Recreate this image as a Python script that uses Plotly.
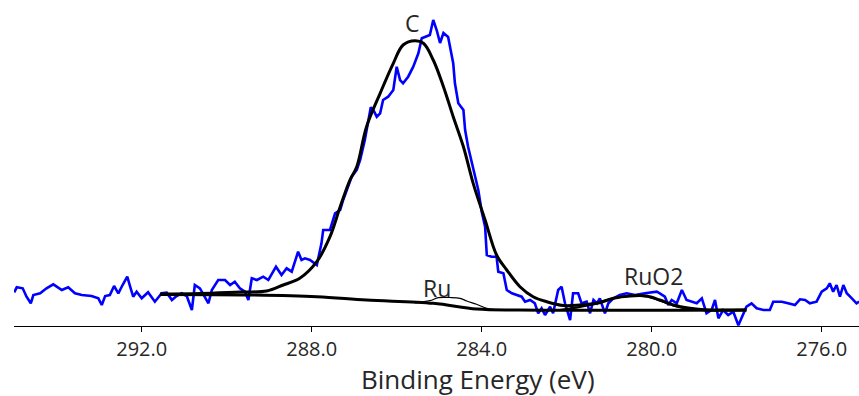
import plotly.graph_objects as go

# Measured spectrum (binding energy in eV, intensity in arbitrary units)
be_data = [295.0, 294.94, 294.80, 294.71, 294.61, 294.55, 294.39, 294.24, 294.08, 293.88,
           293.73, 293.57, 293.41, 293.18, 293.02, 292.94, 292.86, 292.75, 292.65, 292.55,
           292.45, 292.34, 292.26, 292.20, 292.12, 292.00, 291.85, 291.69, 291.53, 291.41,
           291.29, 291.18, 291.06, 290.94, 290.82, 290.75, 290.63, 290.43, 290.35, 290.20,
           290.04, 289.92, 289.81, 289.69, 289.57, 289.49, 289.41, 289.29, 289.14, 289.02,
           288.84, 288.71, 288.59, 288.47, 288.32, 288.24, 288.16, 288.04, 287.88, 287.77,
           287.73, 287.57, 287.45, 287.33, 287.26, 287.18, 287.06, 286.94, 286.86, 286.75,
           286.67, 286.61, 286.55, 286.47, 286.39, 286.32, 286.20, 286.08, 286.00, 285.92,
           285.85, 285.73, 285.61, 285.49, 285.41, 285.29, 285.22, 285.14, 285.06, 284.98,
           284.90, 284.79, 284.75, 284.67, 284.63, 284.55, 284.43, 284.39, 284.32, 284.20,
           284.08, 284.00, 283.92, 283.88, 283.77, 283.65, 283.61, 283.49, 283.41, 283.29,
           283.18, 283.06, 282.98, 282.86, 282.75, 282.67, 282.59, 282.51, 282.39, 282.32,
           282.20, 282.12, 282.04, 281.92, 281.85, 281.73, 281.65, 281.53, 281.45, 281.37,
           281.29, 281.22, 281.10, 281.02, 280.90, 280.75, 280.59, 280.39, 280.16, 280.00,
           279.88, 279.81, 279.69, 279.61, 279.53, 279.41, 279.29, 279.18, 279.02, 278.94,
           278.82, 278.71, 278.59, 278.51, 278.43, 278.32, 278.20, 278.08, 277.96, 277.88,
           277.77, 277.65, 277.53, 277.37, 277.22, 277.14, 276.94, 276.79, 276.63, 276.51,
           276.39, 276.28, 276.12, 276.00, 275.88, 275.81, 275.73, 275.65, 275.57, 275.49,
           275.41, 275.29, 275.18, 275.12]
counts = [33.7, 38.7, 37.7, 29.3, 22.7, 31, 32.7, 37.7, 41.7, 36,
          38.7, 32.7, 31, 30, 27.7, 21, 30, 31, 40, 32.7,
          41, 49.3, 37.7, 29.3, 34.3, 27.7, 33.7, 24.3, 32.7, 33.3,
          26, 30, 32.7, 30, 16, 41, 37.7, 22.7, 36, 46,
          46, 41, 44.3, 37.7, 34.3, 26, 47.7, 46, 49.3, 46,
          59.3, 51, 57.7, 54.3, 74.3, 66, 67.7, 66, 61, 82.7,
          96, 96, 112.7, 116, 126, 136, 149.3, 156, 166, 186,
          206, 218.7, 216, 209.3, 212.7, 226, 229.3, 236, 259.3, 246,
          242.7, 249.3, 259.3, 272.7, 287.7, 289.3, 291, 306, 296, 283,
          293, 289, 279.3, 262.7, 242.7, 222.7, 216, 196, 179.3, 156,
          136, 114.3, 99.3, 71, 69.3, 69.3, 54.3, 52.7, 36, 32.7,
          31, 29.3, 24.3, 26, 22.7, 12.7, 17.7, 11, 19.3, 12.7,
          36, 39.3, 22.7, 6, 32.7, 32.7, 22.7, 24.3, 12.7, 26,
          22.7, 27.7, 12.7, 22.7, 27.7, 31, 32.7, 31, 32.7, 33.3,
          34.3, 32.7, 29.3, 21, 26, 22.7, 36, 26, 24.3, 22.7,
          27.7, 12.7, 16, 26, 7.7, 16, 11, 14.3, 0.8, 9.3,
          19.3, 22.7, 17.7, 16, 16, 24.3, 24.3, 22.7, 21, 26.7,
          26, 22.7, 24.3, 34.3, 37.7, 42.7, 34.3, 41, 29.3, 41,
          32.7, 27.7, 22.7, 24.3]

# Background (Shirley-type)
be_bg = [291.57, 289.45, 287.88, 286.71, 285.14, 284.12, 283.10, 277.77]
bg = [31.5, 31, 29.3, 26, 22.7, 17, 16, 16]

# Total fit envelope
be_env = [291.57, 290.63, 289.69, 289.06, 288.67, 288.28, 287.88, 287.57, 287.33, 287.10,
          286.94, 286.71, 286.39, 286.08, 285.85, 285.57, 285.37, 285.14, 284.90, 284.67,
          284.43, 284.20, 283.92, 283.65, 283.41, 283.10, 282.79, 282.47, 282.08, 281.69,
          281.29, 280.90, 280.51, 280.12, 279.81, 279.49, 279.10, 278.71, 277.77]
env = [32, 32.5, 34, 35, 41, 47.7, 64.3, 89.3, 119.3, 146,
       159.3, 199.3, 232.7, 262.7, 281, 285.3, 282.7, 266, 239.3, 209.3,
       179.3, 142.7, 106, 71, 56, 39.3, 29.3, 24.3, 20.5, 21,
       22.7, 27.7, 30, 30, 26, 21, 17.7, 16, 16]

# Ru component
be_ru = [285.57, 285.22, 285.02, 284.75, 284.51, 284.35, 284.12, 283.88, 283.69]
ru = [23, 25.3, 28.3, 28.5, 27.7, 25, 21.7, 17.7, 16.5]

# RuO2 component
be_ruo2 = [282.16, 281.69, 281.29, 280.90, 280.51, 280.12, 279.81, 279.49, 279.10, 278.71]
ruo2 = [16, 19, 22.7, 27.7, 30, 29.5, 25.5, 20.5, 17, 16]

# Peak labels
label_text = ["C", "Ru", "RuO2"]
label_x = [285.62, 285.06, 279.96]
label_y = [303.5, 38, 50]

tick_vals = [292, 288, 284, 280, 276]
tick_text = ["292.0", "288.0", "284.0", "280.0", "276.0"]
x_title = "Binding Energy (eV)"
x_title_pos = 284.09

FONT = "Open Sans"
TXT = "#262626"

fig = go.Figure()
fig.add_trace(go.Scatter(x=be_data, y=counts, mode="lines",
                         line=dict(color="#0000ff", width=2.6), hoverinfo="skip"))
fig.add_trace(go.Scatter(x=be_ru, y=ru, mode="lines",
                         line=dict(color="black", width=1.2, shape="spline"), hoverinfo="skip"))
fig.add_trace(go.Scatter(x=be_ruo2, y=ruo2, mode="lines",
                         line=dict(color="black", width=2, shape="spline"), hoverinfo="skip"))
fig.add_trace(go.Scatter(x=be_bg, y=bg, mode="lines",
                         line=dict(color="black", width=3, shape="spline"), hoverinfo="skip"))
fig.add_trace(go.Scatter(x=be_env, y=env, mode="lines",
                         line=dict(color="black", width=3, shape="spline"), hoverinfo="skip"))

for t, x, y in zip(label_text, label_x, label_y):
    fig.add_annotation(x=x, y=y, text=t, showarrow=False, xanchor="center", yanchor="middle",
                       font=dict(family=FONT, size=23, color=TXT))

fig.add_annotation(x=x_title_pos, y=-53 / 326, xref="x", yref="paper",
                   text=x_title, showarrow=False,
                   xanchor="center", yanchor="middle",
                   font=dict(family=FONT, size=26, color=TXT))

fig.update_layout(
    width=859, height=396,
    margin=dict(l=14, r=0, t=0, b=70),
    paper_bgcolor="white", plot_bgcolor="white",
    showlegend=False,
    xaxis=dict(range=[295.005, 275.122], tickvals=tick_vals, ticktext=tick_text,
               ticks="outside", ticklen=5, tickcolor="black", tickwidth=1,
               showline=True, linecolor="black", linewidth=1,
               showgrid=False, zeroline=False,
               tickfont=dict(family=FONT, size=20, color=TXT)),
    yaxis=dict(range=[0, 326], visible=False, showgrid=False, zeroline=False),
)

fig.write_html("out.html")
